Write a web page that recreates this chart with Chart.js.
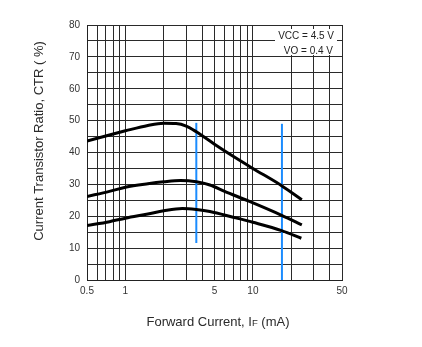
<!DOCTYPE html>
<html>
<head>
<meta charset="utf-8">
<script src="https://cdn.jsdelivr.net/npm/chart.js@4/dist/chart.umd.min.js"></script>
<style>
  html, body { margin: 0; padding: 0; background: #fff; }
  #wrap { width: 422px; height: 347px; }
</style>
</head>
<body>
<div id="wrap"><canvas id="c" width="422" height="347"></canvas></div>
<script>
// Forward current grid (mA) and labelled ticks
const xGrid = [0.5, 0.6, 0.7, 0.8, 0.9, 1, 2, 3, 4, 5, 6, 7, 8, 9, 10, 20, 30, 40, 50];
const xLabelled = [0.5, 1, 5, 10, 50];
const yLabelled = [0, 10, 20, 30, 40, 50, 60, 70, 80];

// CTR curves (IF in mA, CTR in %)
const ifUpper = [0.5, 0.75, 1, 1.5, 2, 2.5, 3, 3.6, 5, 7, 10, 16.8, 24.2];
const ctrUpper = [43.6, 45.5, 46.8, 48.5, 49.2, 49.1, 48.3, 46.5, 42.6, 38.8, 35.0, 29.6, 25.2];

const ifMiddle = [0.5, 0.75, 1, 1.5, 2, 2.7, 3.6, 4.6, 6, 9.2, 16.8, 24.2];
const ctrMiddle = [26.2, 27.8, 29.1, 30.2, 30.8, 31.2, 30.8, 29.8, 27.8, 24.8, 20.3, 17.3];

const ifLower = [0.5, 0.75, 1, 1.5, 2, 2.8, 3.6, 4.6, 7, 10, 16.8, 24.0];
const ctrLower = [17.1, 18.3, 19.4, 20.7, 21.7, 22.4, 22.1, 21.5, 19.7, 18.1, 15.5, 13.1];

// Vertical markers: [IF, CTR from, CTR to]
const markerA = [3.6, 11.6, 49.3];
const markerB = [16.9, 0, 49.0];

const condLines = ['VCC = 4.5 V', 'VO = 0.4 V'];

const toPts = (xs, ys) => xs.map((x, i) => ({ x: x, y: ys[i] }));
const curve = (xs, ys) => ({
  data: toPts(xs, ys),
  borderColor: '#000',
  borderWidth: 3,
  pointRadius: 0,
  cubicInterpolationMode: 'monotone',
  fill: false
});
const marker = (m) => ({
  data: [{ x: m[0], y: m[1] }, { x: m[0], y: m[2] }],
  borderColor: '#1a8cff',
  borderWidth: 2,
  pointRadius: 0,
  fill: false
});

const FONT = 'Liberation Sans, Arial, sans-serif';

// Condition box and axis titles
const annotations = {
  id: 'annotations',
  afterDatasetsDraw(chart) {
    const ctx = chart.ctx;
    const a = chart.chartArea;
    ctx.save();
    // condition box in the upper right corner
    ctx.fillStyle = '#fff';
    ctx.fillRect(a.right - 67, a.top + 4, 62, 26);
    ctx.fillStyle = '#222';
    ctx.font = '10px ' + FONT;
    ctx.textAlign = 'right';
    ctx.textBaseline = 'middle';
    ctx.fillText(condLines[0], a.right - 8, a.top + 11.5);
    ctx.fillText(condLines[1], a.right - 9, a.top + 26);

    // y axis title
    ctx.fillStyle = '#2a2a2a';
    ctx.font = '13px ' + FONT;
    ctx.textAlign = 'center';
    ctx.textBaseline = 'middle';
    ctx.translate(39, 141);
    ctx.rotate(-Math.PI / 2);
    ctx.fillText('Current Transistor Ratio, CTR ( %)', 0, 0);
    ctx.setTransform(1, 0, 0, 1, 0, 0);

    // x axis title with small-caps F in IF
    const p1 = 'Forward Current, I', p2 = 'F', p3 = ' (mA)';
    ctx.textAlign = 'left';
    ctx.textBaseline = 'alphabetic';
    ctx.font = '13px ' + FONT;
    const w1 = ctx.measureText(p1).width, w3 = ctx.measureText(p3).width;
    ctx.font = '9.5px ' + FONT;
    const w2 = ctx.measureText(p2).width;
    let x = 218 - (w1 + w2 + w3) / 2;
    const base = 326;
    ctx.font = '13px ' + FONT;
    ctx.fillText(p1, x, base); x += w1;
    ctx.font = '9.5px ' + FONT;
    ctx.fillText(p2, x, base); x += w2;
    ctx.font = '13px ' + FONT;
    ctx.fillText(p3, x, base);
    ctx.restore();
  }
};

new Chart(document.getElementById('c'), {
  type: 'line',
  data: {
    datasets: [
      curve(ifUpper, ctrUpper),
      curve(ifMiddle, ctrMiddle),
      curve(ifLower, ctrLower),
      marker(markerA),
      marker(markerB)
    ]
  },
  options: {
    responsive: false,
    animation: false,
    layout: { padding: { left: 0, top: 25, right: 80, bottom: 0 } },
    plugins: { legend: { display: false }, tooltip: { enabled: false } },
    scales: {
      x: {
        type: 'logarithmic',
        min: 0.5,
        max: 50,
        afterBuildTicks(scale) { scale.ticks = xGrid.map(v => ({ value: v })); },
        afterFit(scale) { scale.height = 67; },
        grid: { color: '#2a2a2a', lineWidth: 1, drawTicks: false },
        border: { color: '#222', width: 1 },
        ticks: {
          autoSkip: false,
          maxRotation: 0,
          padding: 5,
          color: '#333',
          font: { family: FONT, size: 10 },
          callback(v) { return xLabelled.includes(v) ? String(v) : ''; }
        }
      },
      y: {
        min: 0,
        max: 80,
        afterFit(scale) { scale.width = 87; },
        grid: { color: '#2a2a2a', lineWidth: 1, drawTicks: false },
        border: { color: '#222', width: 1 },
        ticks: {
          stepSize: 5,
          padding: 7,
          color: '#333',
          font: { family: FONT, size: 10 },
          callback(v) { return yLabelled.includes(v) ? String(v) : ''; }
        }
      }
    }
  },
  plugins: [annotations]
});
</script>
</body>
</html>
